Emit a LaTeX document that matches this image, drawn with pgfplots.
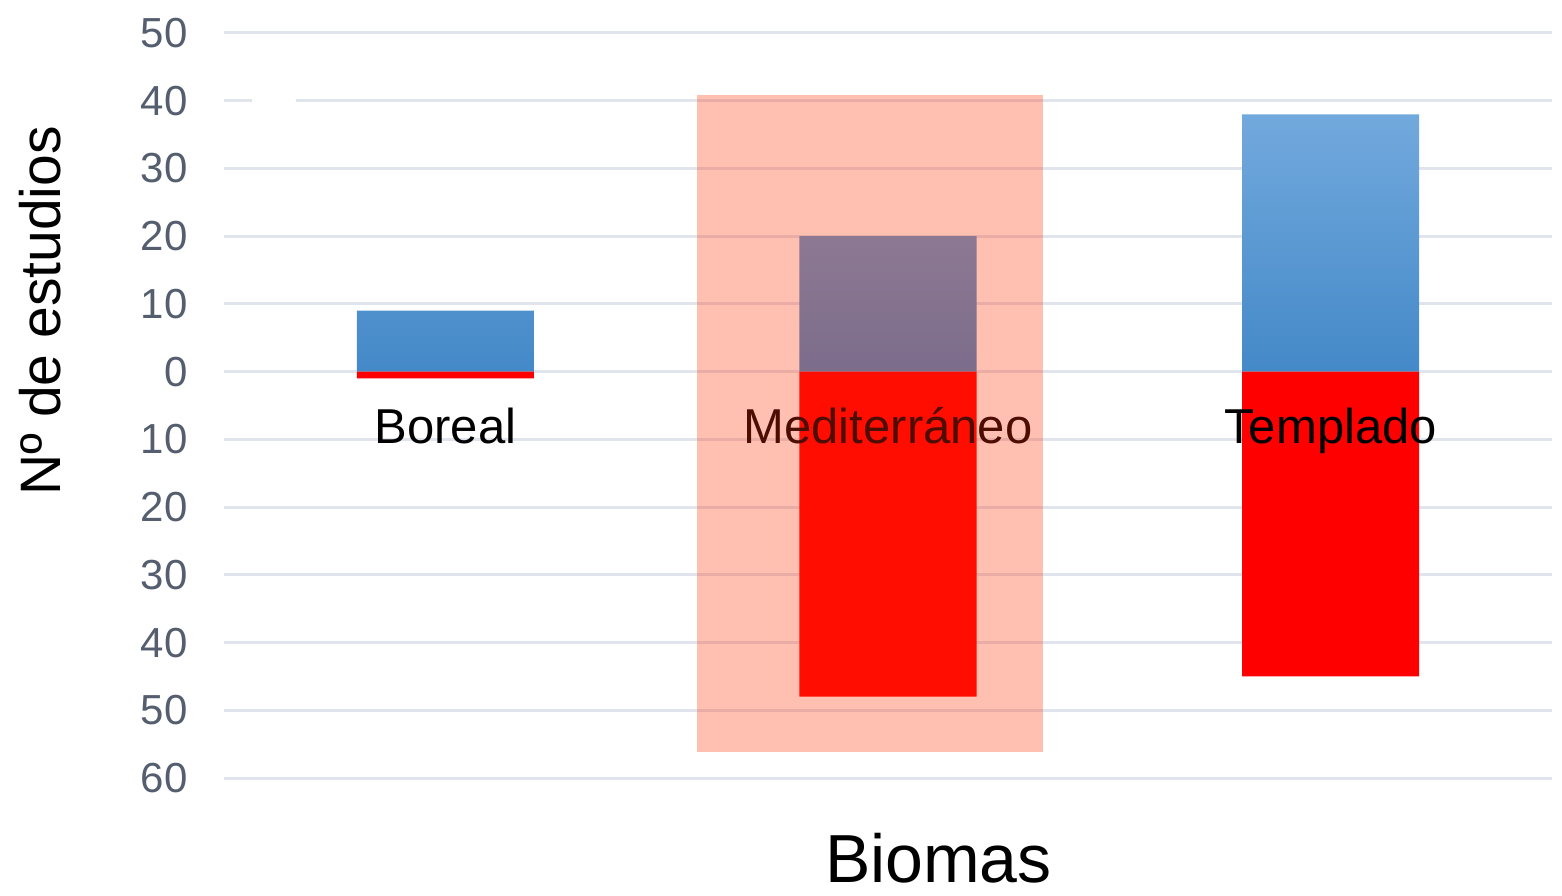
\documentclass[border=0pt]{standalone}
\usepackage{pgfplots}
\pgfplotsset{compat=1.18}
\usepackage{fontspec}
\setmainfont{Liberation Sans}
\definecolor{gridc}{RGB}{224,229,237}
\definecolor{tickc}{RGB}{84,94,110}
\definecolor{bluetop}{RGB}{114,169,221}
\definecolor{bluebot}{RGB}{68,137,200}
\definecolor{barred}{RGB}{255,0,0}
\definecolor{hilite}{RGB}{255,45,0}
\begin{document}
\begin{tikzpicture}
% 1 px of the reference = 0.5pt
\useasboundingbox (-112pt,-58.5pt) rectangle (669pt,389pt);
\begin{axis}[
    scale only axis,
    width=664pt, height=372.5pt,
    at={(0,0)}, anchor=south west,
    xmin=-0.5, xmax=2.5,
    ymin=-60, ymax=50,
    axis line style={draw=none},
    major tick length=0pt,
    xtick=\empty,
    ytick={-60,-50,...,50},
    yticklabels={60,50,40,30,20,10,0,10,20,30,40,50},
    yticklabel style={font=\fontsize{21}{25}\selectfont, text=tickc, anchor=east, inner sep=0pt, xshift=-18pt},
    ymajorgrids,
    grid style={color=gridc, line width=1.5pt},
    ybar, bar width=0.4, bar shift=0pt,
    xlabel={Biomas},
    ylabel={Nº de estudios},
    every axis x label/.style={at={(rel axis cs:0.538,-0.107)}, anchor=center, font=\fontsize{34}{40}\selectfont},
    every axis y label/.style={at={(rel axis cs:-0.1386,0.627)}, rotate=90, anchor=center, font=\fontsize{28.5}{34}\selectfont},
    clip=false,
]
% gap in the 40 grid line
\fill[white] (axis cs:-0.437,38.8) rectangle (axis cs:-0.337,41.2);
% studies with positive effect
\addplot[draw=none, top color=bluetop, bottom color=bluebot] coordinates {(0,9) (1,20) (2,38)};
% studies with negative effect
\addplot[draw=none, fill=barred] coordinates {(0,-1) (1,-48) (2,-45)};
\tikzset{catlabel/.style={anchor=base, inner sep=0pt, font=\fontsize{24.5}{29}\selectfont}}
\node[catlabel] at (axis cs:0,-10.6) {Boreal};
\node[catlabel] at (axis cs:1,-10.6) {Mediterráneo};
\node[catlabel] at (axis cs:2,-10.6) {Templado};
% highlight over Mediterráneo
\fill[hilite, opacity=0.3] (axis cs:0.569,40.9) rectangle (axis cs:1.351,-56.2);
\end{axis}
\end{tikzpicture}
\end{document}
